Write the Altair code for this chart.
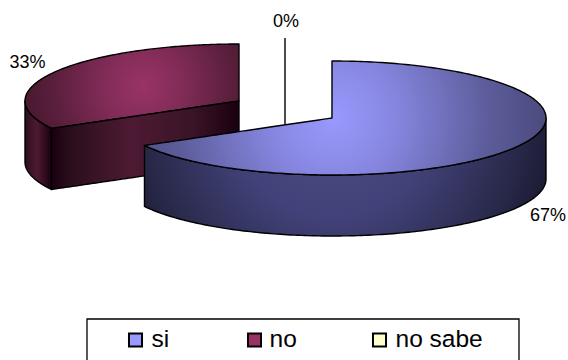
import math
import altair as alt
import pandas as pd

# Survey answers and their shares of the total
categories = ["si", "no", "no sabe"]
shares = [67, 33, 0]
top_colors = ["#9999ff", "#993366", "#ffffcc"]

W, H = 568, 360
RX, RY, DEPTH = 214, 57, 61
BLUE_C = (332, 118)
RED_C = (239, 101)


def sweep(start, end, n=160):
    return [start + (end - start) * i / n for i in range(n + 1)]


def ell(c, t):
    return c[0] + RX * math.sin(t), c[1] - RY * math.cos(t)


def upper(c, x):
    u = max(0.0, 1 - ((x - c[0]) / RX) ** 2)
    return c[1] - RY * math.sqrt(u)


def table(rows):
    rows = sorted(rows, key=lambda r: r[0])
    return pd.DataFrame([{"x": r[0], "y": r[1], "y2": r[2]} for r in rows])


boundary = 2 * math.pi * shares[0] / sum(shares)
blue_edge = ell(BLUE_C, boundary)
red_edge = ell(RED_C, boundary)

# Blue slice: top face and rim, running from the cut edge around to the right
blue_lower = [ell(BLUE_C, t) for t in sweep(boundary, math.pi / 2)]
blue_top_rows = []
for x, y in blue_lower:
    if x < BLUE_C[0]:
        f = (x - blue_edge[0]) / (BLUE_C[0] - blue_edge[0])
        up = blue_edge[1] + f * (BLUE_C[1] - blue_edge[1])
    else:
        up = upper(BLUE_C, x)
    blue_top_rows.append((x, up, y))
# vertical edge at the slice's start
low_at_c = BLUE_C[1] + RY
blue_top_rows.append((BLUE_C[0] - 0.02, BLUE_C[1], low_at_c))
blue_top_rows.append((BLUE_C[0], BLUE_C[1] - RY, low_at_c))
blue_side_rows = [(x, y, y + DEPTH) for x, y in blue_lower]

# Red slice: top face, outer rim and the exposed cut face
red_left = [ell(RED_C, t) for t in sweep(1.5 * math.pi, boundary, 40)]
red_top_rows = [(x, upper(RED_C, x), y) for x, y in red_left]
red_cut_rows = []
for i in range(81):
    x = red_edge[0] + (RED_C[0] - red_edge[0]) * i / 80
    y = red_edge[1] + (RED_C[1] - red_edge[1]) * i / 80
    red_cut_rows.append((x, y, y + DEPTH))
red_top_rows += [(x, upper(RED_C, x), y) for x, y, _ in red_cut_rows]
red_side_rows = [(x, y, y + DEPTH) for x, y in red_left]

x_scale = alt.Scale(domain=[0, W], range=[0, W], nice=False, zero=False)
y_scale = alt.Scale(domain=[0, H], range=[0, H], nice=False, zero=False)
X = alt.X("x:Q", scale=x_scale, axis=None)
Y = alt.Y("y:Q", scale=y_scale, axis=None)


def stops(*pairs):
    return [alt.GradientStop(offset=o, color=c) for o, c in pairs]


def radial(cx, cy, r, *pairs):
    return alt.Gradient(
        gradient="radial", x1=cx, y1=cy, r1=0, x2=cx, y2=cy, r2=r, stops=stops(*pairs)
    )


def linear(*pairs):
    return alt.Gradient(gradient="linear", x1=0, y1=0, x2=1, y2=0, stops=stops(*pairs))


def face(rows, fill):
    return (
        alt.Chart(table(rows))
        .mark_area(fill=fill, stroke="black", strokeWidth=1.4, strokeJoin="round", opacity=1)
        .encode(x=X, y=Y, y2="y2:Q")
    )


red_top = face(
    red_top_rows,
    radial(0.55, 0.5, 0.52, (0, "#993366"), (0.35, "#822c58"), (0.8, "#5a1f3c"), (1, "#4d1a33")),
)
red_cut = face(
    red_cut_rows,
    linear((0, "#1a0010"), (0.1, "#2a0e1c"), (0.42, "#4d1a33"), (0.75, "#3a1427"), (1, "#1a0010")),
)
red_side = face(
    red_side_rows,
    linear((0, "#2c0f1d"), (0.45, "#4d1a33"), (1, "#1a0010")),
)
blue_side = face(
    blue_side_rows,
    radial(0.47, 0.36, 0.6, (0, "#4d4d80"), (0.4, "#42427a"), (0.75, "#2a2a4c"), (1, "#15152a")),
)
blue_top = face(
    blue_top_rows,
    radial(0.47, 0.5, 0.52, (0, "#9999ff"), (0.3, "#8686e0"), (0.75, "#5c5c9a"), (1, "#4c4c80")),
)

# Leader line of the empty slice
leader = (
    alt.Chart(pd.DataFrame({"x": [285], "y": [38], "y2": [124]}))
    .mark_rule(color="black", strokeWidth=1.4)
    .encode(x=X, y=Y, y2="y2:Q")
)

labels = (
    alt.Chart(
        pd.DataFrame(
            {
                "x": [548, 27.5, 286],
                "y": [216, 63, 22],
                "t": [f"{s}%" for s in shares],
            }
        )
    )
    .mark_text(font="Liberation Sans", fontSize=18, color="black")
    .encode(x=X, y=Y, text="t:N")
)

# Legend box, open past the lower edge of the canvas
frame = (
    alt.Chart(pd.DataFrame({"x": [87], "x2": [519], "y": [319], "y2": [364]}))
    .mark_rect(fill="white", stroke="black", strokeWidth=1.3)
    .encode(x=X, x2="x2:Q", y=Y, y2="y2:Q")
)
legend_df = pd.DataFrame(
    {
        "cat": categories,
        "x": [135.5, 254.5, 379.5],
        "tx": [151.5, 269.5, 395.5],
        "y": [340, 340, 340],
        "label": categories,
    }
)
color = alt.Color(
    "cat:N", scale=alt.Scale(domain=categories, range=top_colors), legend=None
)
swatches = (
    alt.Chart(legend_df)
    .mark_point(shape="square", filled=True, size=170, stroke="black", strokeWidth=2, opacity=1)
    .encode(x=X, y=Y, fill=color)
)
legend_text = (
    alt.Chart(legend_df)
    .mark_text(font="Liberation Sans", fontSize=24.5, align="left", color="black")
    .encode(x=alt.X("tx:Q", scale=x_scale, axis=None), y=Y, text="label:N")
)

chart = (
    alt.layer(leader, red_top, red_side, red_cut, blue_side, blue_top, labels, frame, swatches, legend_text)
    .properties(width=W, height=H, padding=0, autosize=alt.AutoSizeParams(type="none"))
    .configure_view(stroke=None)
)
chart.save("out.html", embed_options={"renderer": "svg", "actions": False})
